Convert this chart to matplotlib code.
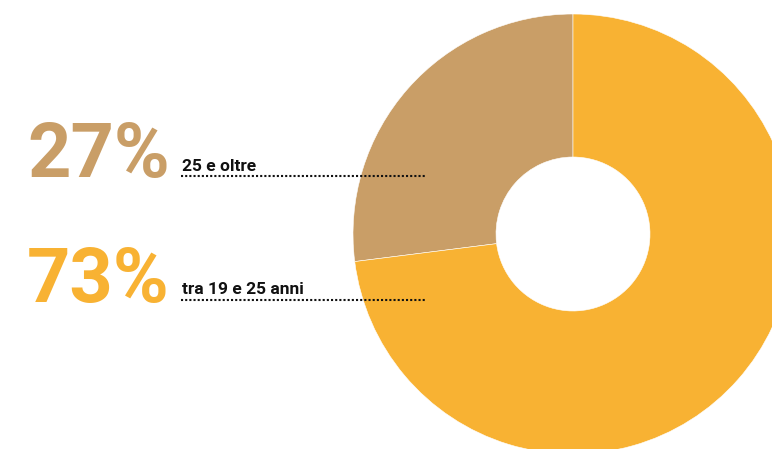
import matplotlib
matplotlib.use('Agg')
import matplotlib.pyplot as plt

# data
shares = [27, 73]
pct_labels = ["27%", "73%"]
group_labels = ["25 e oltre", "tra 19 e 25 anni"]
colors = ["#C99E67", "#F8B233"]

W, H = 772, 449
fig = plt.figure(figsize=(W / 100, H / 100), dpi=100)
ax = fig.add_axes([0, 0, 1, 1])

# donut (pixel-like coordinates, y up)
outer_r = 220
inner_r = 77
ax.pie(shares, colors=colors, startangle=90, counterclock=True,
       center=(573, H - 234), radius=outer_r,
       wedgeprops=dict(width=outer_r - inner_r, edgecolor="white", linewidth=0.4))

# text block on the left
baselines_pct = [H - 177, H - 302]
baselines_lbl = [H - 171, H - 294]
line_y = [H - 176, H - 300]
for i in range(len(shares)):
    ax.text(27, baselines_pct[i], pct_labels[i], color=colors[i], fontsize=54.5,
            fontweight="bold", family="Roboto", va="baseline", ha="left")
    ax.text(182, baselines_lbl[i], group_labels[i], color="#111111", fontsize=12.5,
            fontweight="bold", family="Roboto", va="baseline", ha="left")
    ax.plot([181, 426], [line_y[i], line_y[i]], color="#111111", lw=1.5,
            linestyle=(0, (1, 1)), solid_capstyle="butt", dash_capstyle="butt")

ax.set_xlim(0, W)
ax.set_ylim(0, H)
ax.set_aspect("auto")
ax.axis("off")

fig.savefig("out.png", dpi=100, facecolor="white")
